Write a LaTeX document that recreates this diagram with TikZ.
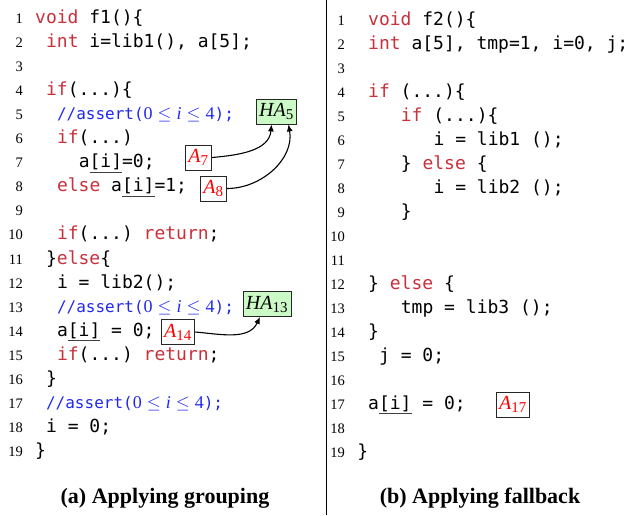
\RequirePackage{fix-cm}
\documentclass[tikz,border=0pt]{standalone}
\usepackage{fontspec}
\setmainfont{Liberation Serif}
\setmonofont{DejaVu Sans Mono}
\usetikzlibrary{arrows.meta}
\DeclareMathSizes{18}{18}{13.5}{10}
\DeclareMathSizes{20}{20}{15}{11}

\definecolor{kwred}{RGB}{200,48,58}
\definecolor{cmtblue}{RGB}{32,40,240}
\definecolor{hagreen}{RGB}{204,250,198}

\newcommand{\kw}[1]{\textcolor{kwred}{#1}}
\newcommand{\ulsub}[1]{\setbox0\hbox{#1}\rlap{\textcolor{black!75}{\rule[-5pt]{\wd0}{1pt}}}\box0{}}
\newcommand{\cmt}[1]{{\fontsize{16}{20}\selectfont#1}}
\newcommand{\asrt}{\textcolor{cmtblue}{\cmt{//assert(}$\mathrm{0}\le \mathit{i}\le \mathrm{4}$\cmt{);}}}
\newcommand{\acc}[2]{$\mathit{#1}_{\mathrm{#2}}$}

\tikzset{
	code/.style = {anchor=base west, inner sep=0pt,
		font=\ttfamily\fontsize{18}{20}\selectfont},
	lnum/.style = {anchor=base east, inner sep=0pt,
		font=\fontsize{14.5}{16}\selectfont},
	lbl/.style = {draw=black!85, fill=white, line width=0.8pt,
		text=red, inner sep=3pt, minimum height=25pt,
		font=\fontsize{20}{22}\selectfont},
	halbl/.style = {lbl, fill=hagreen, text=black},
	caption/.style = {anchor=base, inner sep=0pt,
		font=\bfseries\fontsize{22}{24}\selectfont},
	link/.style = {-{Latex[length=7pt,width=6pt]}, line width=1.1pt},
}

\begin{document}
\begin{tikzpicture}[x=1pt, y=-1pt]
	\def\cw{10.9}
	\def\lh{24.1}
	\useasboundingbox (0,0) rectangle (633,515);
	\draw [line width=1pt] (326, 0) -- (326, 515);
	% line numbers
	\foreach \n in {1,...,19}
	{
		\node[lnum] (la\n) at (23, {23+(\n-1)*\lh}) {\n};
		\node[lnum] (lb\n) at (345, {25+(\n-1)*24}) {\n};
	}
	% f1
	\node[code] (a1) at (35, {23+0*\lh}) {\kw{void} f1()\{};
	\node[code] (a2) at ({35+1*\cw}, {23+1*\lh}) {\kw{int} i=lib1(), a[5];};
	\node[code] (a4) at ({35+1*\cw}, {23+3*\lh}) {\kw{if}(...)\{};
	\node[code] (a5) at ({35+2*\cw}, {23+4*\lh}) {\asrt};
	\node[code] (a6) at ({35+2*\cw}, {23+5*\lh}) {\kw{if}(...)};
	\node[code] (a7) at ({35+4*\cw}, {23+6*\lh}) {a\ulsub{[i]}=0;};
	\node[code] (a8) at ({35+2*\cw}, {23+7*\lh}) {\kw{else} a\ulsub{[i]}=1;};
	\node[code] (a10) at ({35+2*\cw}, {23+9*\lh}) {\kw{if}(...) \kw{return};};
	\node[code] (a11) at ({35+1*\cw}, {23+10*\lh}) {\}\kw{else}\{};
	\node[code] (a12) at ({35+2*\cw}, {23+11*\lh}) {i = lib2();};
	\node[code] (a13) at ({35+2*\cw}, {23+12*\lh}) {\asrt};
	\node[code] (a14) at ({35+2*\cw}, {23+13*\lh}) {a\ulsub{[i]} = 0;};
	\node[code] (a15) at ({35+2*\cw}, {23+14*\lh}) {\kw{if}(...) \kw{return};};
	\node[code] (a16) at ({35+1*\cw}, {23+15*\lh}) {\}};
	\node[code] (a17) at ({35+1*\cw}, {23+16*\lh}) {\asrt};
	\node[code] (a18) at ({35+1*\cw}, {23+17*\lh}) {i = 0;};
	\node[code] (a19) at (35, {23+18*\lh}) {\}};
	% f2
	\node[code] (b1) at (368, 25) {\kw{void} f2()\{};
	\node[code] (b2) at (368, 49) {\kw{int} a[5], tmp=1, i=0, j;};
	\node[code] (b4) at (368, 97) {\kw{if} (...)\{};
	\node[code] (b5) at ({368+3*\cw}, 121) {\kw{if} (...)\{};
	\node[code] (b6) at ({368+6*\cw}, 145) {i = lib1 ();};
	\node[code] (b7) at ({368+3*\cw}, 169) {\} \kw{else} \{};
	\node[code] (b8) at ({368+6*\cw}, 193) {i = lib2 ();};
	\node[code] (b9) at ({368+3*\cw}, 217) {\}};
	\node[code] (b12) at (368, 289) {\} \kw{else} \{};
	\node[code] (b13) at ({368+3*\cw}, 313) {tmp = lib3 ();};
	\node[code] (b14) at (368, 337) {\}};
	\node[code] (b15) at ({368+1*\cw}, 361) {j = 0;};
	\node[code] (b17) at (368, 409) {a\ulsub{[i]} = 0;};
	\node[code] (b19) at ({368-1*\cw}, 457) {\}};
	% accesses and grouped accesses
	\node[halbl] (HA5) at (276.5, 111.5) {\acc{HA}{5}};
	\node[halbl] (HA13) at (267, 304) {\acc{HA}{13}};
	\node[lbl] (A7) at (198.5, 157.5) {\acc{A}{7}};
	\node[lbl] (A8) at (213.5, 188.5) {\acc{A}{8}};
	\node[lbl] (A14) at (178, 332) {\acc{A}{14}};
	\node[lbl] (A17) at (513, 404.5) {\acc{A}{17}};
	\draw [link] (A7.east) to[out=5, in=-95] ([xshift=-5pt]HA5.south);
	\draw [link] (A8.east) to[out=0, in=-80] ([xshift=12pt]HA5.south);
	\draw [link] (A14.east) to[out=-5, in=-115] ([xshift=-7pt]HA13.south);
	% captions
	\node[caption] (capa) at (165, 503) {(a) Applying grouping};
	\node[caption] (capb) at (480, 503) {(b) Applying fallback};
\end{tikzpicture}
\end{document}
